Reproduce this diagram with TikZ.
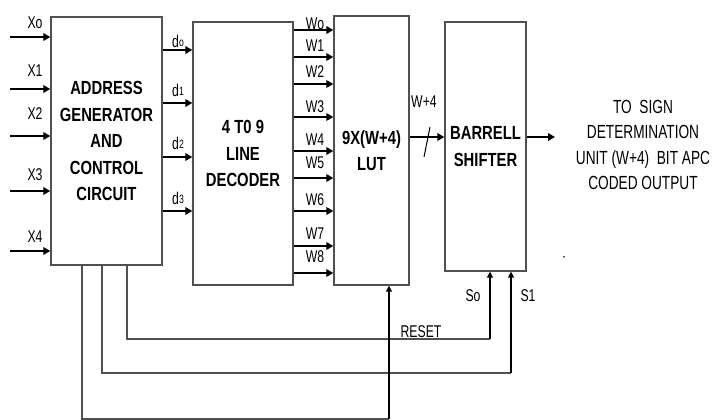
\documentclass[tikz,border=0pt]{standalone}
\usepackage{fontspec}
\newfontfamily\narrowsf{Liberation Sans}[FakeStretch=0.72]
\newfontfamily\narrowbf{Liberation Sans Bold}[FakeStretch=0.78]
\usetikzlibrary{arrows.meta}
\definecolor{boxgray}{RGB}{80,80,80}
\newcommand\smallidx{\fontsize{12}{12}\selectfont}

\begin{document}
\begin{tikzpicture}[x=1pt,y=-1pt,
    box/.style={draw=boxgray,line width=1.3pt,inner sep=0pt,align=center,
      font=\narrowbf\fontsize{19}{26.5}\selectfont},
    sig/.style={line width=2.4pt,-{Triangle[length=7pt,width=7.5pt]}},
    up/.style={line width=1.9pt,-{Triangle[length=6pt,width=6pt]}},
    wire/.style={draw=boxgray,line width=1.3pt},
    tag/.style={font=\narrowsf\fontsize{17}{18}\selectfont,inner sep=0pt}]
  \useasboundingbox (0,0) rectangle (721,420);
  % blocks
  \node[box,minimum width=111pt,minimum height=248pt] (addr) at (106.5,141)
    {ADDRESS\\GENERATOR\\AND\\CONTROL\\CIRCUIT};
  \node[box,minimum width=100pt,minimum height=263pt] (dec) at (243,153.5)
    {4 T0 9\\LINE\\DECODER};
  \node[box,minimum width=75pt,minimum height=269pt] (lut) at (371.5,150.5)
    {9X(W+4)\\LUT};
  \node[box,minimum width=81pt,minimum height=249pt] (bs) at (485.5,146.5)
    {BARRELL\\SHIFTER};
  % inputs
  \foreach \n/\y/\ly in {o/37/23,1/89/71,2/136/114,3/191/175,4/251/237} {
    \coordinate (x\n) at (10,\y);
    \draw[sig] (x\n) -- (addr.west |- x\n);
    \node[tag] at (35,\ly) {X\n};
  }
  \foreach \n/\y/\ly in {o/50/41,1/103/90,2/157/143,3/211/198} {
    \draw[sig] (addr.east |- 0,\y) -- (dec.west |- 0,\y);
    \node[tag] at (178,\ly) {d\raisebox{1pt}{\smallidx\n}};
  }
  \foreach \n/\y/\ly in {o/30/24,1/57/46,2/84/72,3/117/107,4/151/140,5/178/163,6/211/200,7/246/234,8/273/257} {
    \draw[sig] (dec.east |- 0,\y) -- (lut.west |- 0,\y);
    \node[tag] at (315,\ly) {W\n};
  }
  % lut to shifter
  \draw[sig] (lut.east |- 0,137) -- (bs.west |- 0,137);
  \draw[line width=1pt] (430,127) -- (424,157);
  \node[tag] at (424,102) {W+4};
  \coordinate (out) at (555,137);
  \draw[sig] (bs.east |- out) -- (out);
  \node[font=\narrowsf\fontsize{19}{25.3}\selectfont,align=center] (outtxt) at (643,145)
    {TO\ \ SIGN\\DETERMINATION\\UNIT (W+4)\ \ BIT APC\\CODED OUTPUT};
  % control lines
  \coordinate (s0) at (490,339);
  \coordinate (s1) at (511,373);
  \coordinate (rs) at (389,419);
  \draw[wire] (addr.south -| 127,0) |- (s0);
  \draw[wire] (addr.south -| 102,0) |- (s1);
  \draw[wire] (addr.south -| 82,0) |- (rs);
  \draw[up] (s0) -- (bs.south -| s0);
  \draw[up] (s1) -- (bs.south -| s1);
  \draw[up] (rs) -- (lut.south -| rs);
  \node[tag] at (421,332) {RESET};
  \node[tag] at (473,296) {So};
  \node[tag] at (528,296) {S1};
  \node[tag] at (564,259) {\smallidx -};
\end{tikzpicture}
\end{document}
